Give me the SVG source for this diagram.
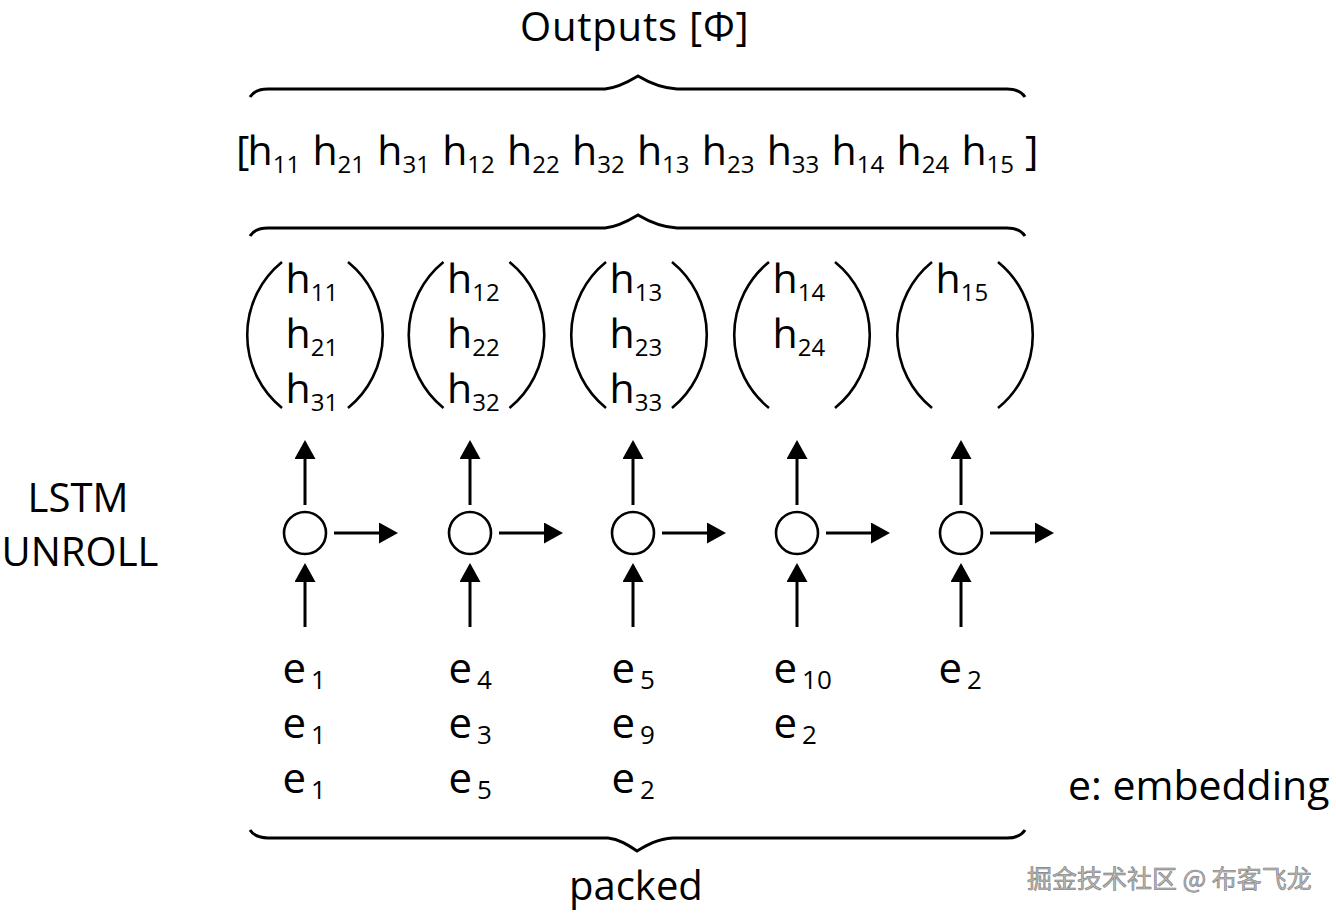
<svg xmlns="http://www.w3.org/2000/svg" width="1336" height="917" viewBox="0 0 1336 917">
<style>
.t{font-family:"Open Sans","Noto Sans","Liberation Sans",sans-serif;fill:#000}
.big{font-size:41px}
.sub{font-size:24px}
.esub{font-size:26px}
.ln{stroke:#000;stroke-width:3;fill:none}
.par{stroke:#000;stroke-width:2.6;fill:none}
.cell{fill:#fff;stroke:#000;stroke-width:2.6}
.wm{font-family:"Noto Sans CJK SC","Noto Sans",sans-serif;font-size:25px;fill:#b8b8b8;stroke:#7a7a7a;stroke-width:0.6}
</style>
<defs>
<marker id="ah" viewBox="0 0 19 21" refX="0" refY="10.5" markerWidth="19" markerHeight="21" markerUnits="userSpaceOnUse" orient="auto">
<path d="M0,0 L19,10.5 L0,21 Z" fill="#000"/>
</marker>
<path id="paren" d="M-33,262 A94,94 0 0 0 -33,408 M33,262 A94,94 0 0 1 33,408"/>
</defs>
<rect width="1336" height="917" fill="#fff"/>

<g id="title">
<text class="t" font-size="40" letter-spacing="0.8" x="520" y="41">Outputs [Φ]</text>
</g>

<g id="braces">
<path class="ln" d="M250,97 Q255,89 268,89 L605,89 C616,88 628,82 638,76 C648,82 660,88 677,89 L1007,89 Q1020,89 1025,97"/>
<path class="ln" d="M250,236 Q255,228 268,228 L605,228 C616,227 628,221 638,215 C648,221 660,227 677,228 L1007,228 Q1020,228 1025,236"/>
<path class="ln" d="M250,830 Q255,838 268,838 L608,838 C619,839 628,845 637,851 C647,845 657,839 673,838 L1007,838 Q1020,838 1025,830"/>
</g>

<g id="output-row" class="t big">
<text x="236" y="165">[</text>
<text x="247.5" y="165">h<tspan class="sub" dy="8">11</tspan></text>
<text x="312.4" y="165">h<tspan class="sub" dy="8">21</tspan></text>
<text x="377.3" y="165">h<tspan class="sub" dy="8">31</tspan></text>
<text x="442.2" y="165">h<tspan class="sub" dy="8">12</tspan></text>
<text x="507.1" y="165">h<tspan class="sub" dy="8">22</tspan></text>
<text x="572" y="165">h<tspan class="sub" dy="8">32</tspan></text>
<text x="636.9" y="165">h<tspan class="sub" dy="8">13</tspan></text>
<text x="701.8" y="165">h<tspan class="sub" dy="8">23</tspan></text>
<text x="766.7" y="165">h<tspan class="sub" dy="8">33</tspan></text>
<text x="831.6" y="165">h<tspan class="sub" dy="8">14</tspan></text>
<text x="896.5" y="165">h<tspan class="sub" dy="8">24</tspan></text>
<text x="961.4" y="165">h<tspan class="sub" dy="8">15</tspan></text>
<text x="1025" y="165">]</text>
</g>

<g id="h-group-1" transform="translate(315,0)">
<use href="#paren" class="par"/>
<g class="t big">
<text x="-29.5" y="293">h<tspan class="sub" dy="7.5">11</tspan></text>
<text x="-29.5" y="348">h<tspan class="sub" dy="7.5">21</tspan></text>
<text x="-29.5" y="403">h<tspan class="sub" dy="7.5">31</tspan></text>
</g>
</g>
<g id="h-group-2" transform="translate(476.5,0)">
<use href="#paren" class="par"/>
<g class="t big">
<text x="-29.5" y="293">h<tspan class="sub" dy="7.5">12</tspan></text>
<text x="-29.5" y="348">h<tspan class="sub" dy="7.5">22</tspan></text>
<text x="-29.5" y="403">h<tspan class="sub" dy="7.5">32</tspan></text>
</g>
</g>
<g id="h-group-3" transform="translate(639,0)">
<use href="#paren" class="par"/>
<g class="t big">
<text x="-29.5" y="293">h<tspan class="sub" dy="7.5">13</tspan></text>
<text x="-29.5" y="348">h<tspan class="sub" dy="7.5">23</tspan></text>
<text x="-29.5" y="403">h<tspan class="sub" dy="7.5">33</tspan></text>
</g>
</g>
<g id="h-group-4" transform="translate(802,0)">
<use href="#paren" class="par"/>
<g class="t big">
<text x="-29.5" y="293">h<tspan class="sub" dy="7.5">14</tspan></text>
<text x="-29.5" y="348">h<tspan class="sub" dy="7.5">24</tspan></text>
</g>
</g>
<g id="h-group-5" transform="translate(965,0)">
<use href="#paren" class="par"/>
<g class="t big">
<text x="-29.5" y="293">h<tspan class="sub" dy="7.5">15</tspan></text>
</g>
</g>

<g id="lstm-label" class="t" font-size="40" text-anchor="middle">
<text x="78" y="512">LSTM</text>
<text x="80" y="566">UNROLL</text>
</g>

<g id="cell-1"><circle class="cell" cx="305" cy="533" r="21"/></g>
<g id="cell-2"><circle class="cell" cx="470" cy="533" r="21"/></g>
<g id="cell-3"><circle class="cell" cx="633" cy="533" r="21"/></g>
<g id="cell-4"><circle class="cell" cx="797" cy="533" r="21"/></g>
<g id="cell-5"><circle class="cell" cx="961" cy="533" r="21"/></g>

<g id="connectors" class="ln" marker-end="url(#ah)">
<path d="M305,505 V459"/><path d="M305,627 V582"/><path d="M334,533 H379"/>
<path d="M470,505 V459"/><path d="M470,627 V582"/><path d="M499,533 H544"/>
<path d="M633,505 V459"/><path d="M633,627 V582"/><path d="M662,533 H707"/>
<path d="M797,505 V459"/><path d="M797,627 V582"/><path d="M826,533 H871"/>
<path d="M961,505 V459"/><path d="M961,627 V582"/><path d="M990,533 H1035"/>
</g>

<g id="e-group-1" class="t" font-size="42">
<text x="282.5" y="683">e<tspan class="esub" dx="5" dy="6">1</tspan></text>
<text x="282.5" y="738">e<tspan class="esub" dx="5" dy="6">1</tspan></text>
<text x="282.5" y="793">e<tspan class="esub" dx="5" dy="6">1</tspan></text>
</g>
<g id="e-group-2" class="t" font-size="42">
<text x="448.5" y="683">e<tspan class="esub" dx="5" dy="6">4</tspan></text>
<text x="448.5" y="738">e<tspan class="esub" dx="5" dy="6">3</tspan></text>
<text x="448.5" y="793">e<tspan class="esub" dx="5" dy="6">5</tspan></text>
</g>
<g id="e-group-3" class="t" font-size="42">
<text x="611.5" y="683">e<tspan class="esub" dx="5" dy="6">5</tspan></text>
<text x="611.5" y="738">e<tspan class="esub" dx="5" dy="6">9</tspan></text>
<text x="611.5" y="793">e<tspan class="esub" dx="5" dy="6">2</tspan></text>
</g>
<g id="e-group-4" class="t" font-size="42">
<text x="773.5" y="683">e<tspan class="esub" dx="5" dy="6">10</tspan></text>
<text x="773.5" y="738">e<tspan class="esub" dx="5" dy="6">2</tspan></text>
</g>
<g id="e-group-5" class="t" font-size="42">
<text x="938.5" y="683">e<tspan class="esub" dx="5" dy="6">2</tspan></text>
</g>

<g id="legend">
<text class="t" font-size="41" x="1068" y="800">e: embedding</text>
</g>
<g id="packed-label">
<text class="t" font-size="40" x="569" y="900">packed</text>
</g>
<g id="watermark">
<text class="wm" x="1027" y="888">掘金技术社区 @ 布客飞龙</text>
</g>
</svg>
